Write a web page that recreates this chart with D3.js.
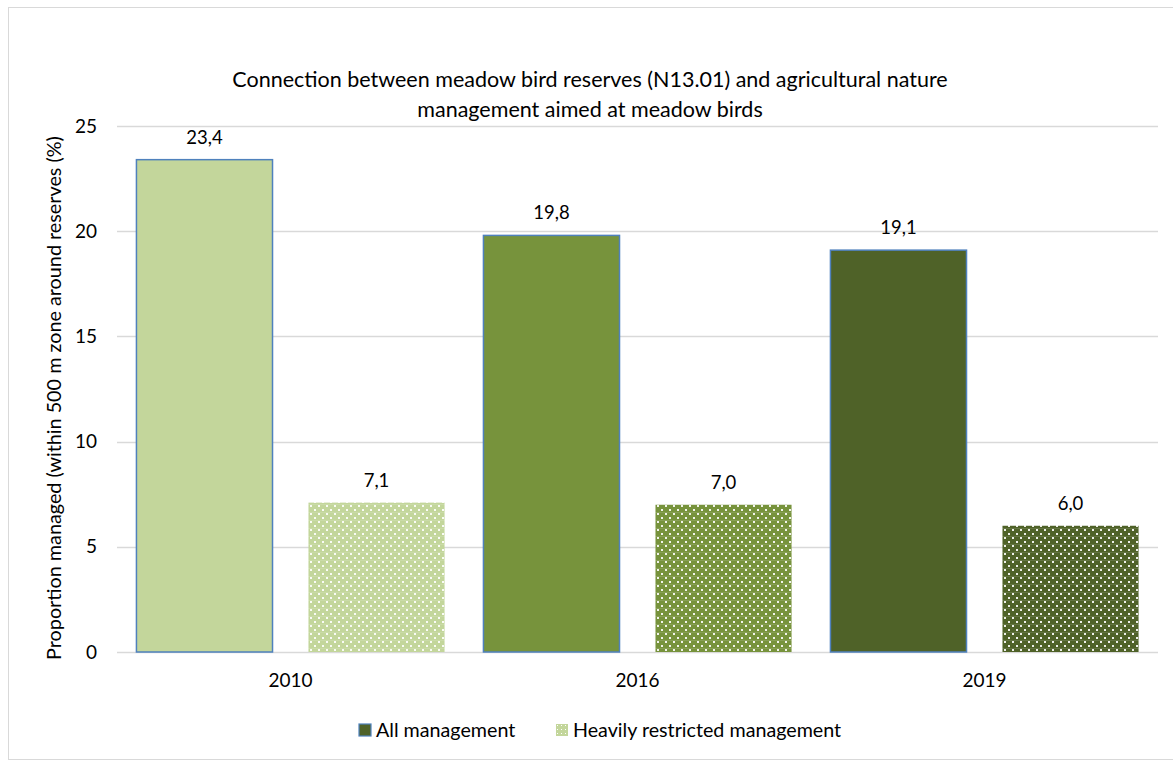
<!DOCTYPE html>
<html>
<head>
<meta charset="utf-8">
<script src="https://cdn.jsdelivr.net/npm/d3@7"></script>
<style>
  body { margin: 0; background: #fff; }
  text { font-family: Lato, "Open Sans", sans-serif; fill: #000; }
</style>
</head>
<body>
<div id="chart"></div>
<script>
// ---------------------------------------------- DATA ---------------------------------------------- //
const years = ["2010", "2016", "2019"];
const seriesNames = ["All management", "Heavily restricted management"];
const allManagement = [23.4, 19.8, 19.1];
const heavilyRestricted = [7.1, 7.0, 6.0];
const yTicks = [0, 5, 10, 15, 20, 25];
const yearColors = ["#C3D69B", "#77933C", "#4F6228"];

const width = 1173, height = 760;
const margin = {top: 126, right: 15, bottom: 108, left: 117};

const svg = d3.select("#chart")
  .append("svg")
  .attr("width", width)
  .attr("height", height);

// patterns for the "heavily restricted" bars
const defs = svg.append("defs");
yearColors.forEach(function (c, i) {
  const p = defs.append("pattern")
    .attr("id", "dots" + i)
    .attr("patternUnits", "userSpaceOnUse")
    .attr("width", 8).attr("height", 8);
  p.append("rect").attr("width", 8).attr("height", 8).attr("fill", c);
  p.append("rect").attr("x", 1).attr("y", 1).attr("width", 2).attr("height", 2).attr("fill", "#fff").attr("opacity", 0.9);
  p.append("rect").attr("x", 5).attr("y", 5).attr("width", 2).attr("height", 2).attr("fill", "#fff").attr("opacity", 0.9);
  p.append("rect").attr("x", 0).attr("y", 0).attr("width", 8).attr("height", 0.6).attr("fill", "#fff").attr("opacity", 0.2);
});
const legendPat = defs.append("pattern")
  .attr("id", "legendDots")
  .attr("patternUnits", "userSpaceOnUse")
  .attr("width", 4).attr("height", 4);
legendPat.append("rect").attr("width", 4).attr("height", 4).attr("fill", "#C3D69B");
legendPat.append("rect").attr("x", 1).attr("y", 1).attr("width", 1).attr("height", 1).attr("fill", "#fff");

// outer frame
svg.append("rect")
  .attr("x", 8.5).attr("y", 7.5)
  .attr("width", width - 8).attr("height", height - 8)
  .attr("fill", "none")
  .attr("stroke", "#d9d9d9");

// ---------------------------------------------- SCALES ---------------------------------------------- //
const x0 = d3.scaleBand()
  .domain(years)
  .range([margin.left, width - margin.right])
  .padding(0);

const x1 = d3.scaleBand()
  .domain(seriesNames)
  .range([0, x0.bandwidth()])
  .paddingInner(0.209)
  .paddingOuter(0.113);

const y = d3.scaleLinear()
  .domain([0, 25])
  .range([height - margin.bottom, margin.top]);

// gridlines
svg.append("g")
  .selectAll("line")
  .data(yTicks)
  .enter()
  .append("line")
  .attr("x1", margin.left)
  .attr("x2", width - margin.right)
  .attr("y1", d => Math.round(y(d)) + 0.5)
  .attr("y2", d => Math.round(y(d)) + 0.5)
  .attr("stroke", "#d9d9d9")
  .attr("stroke-width", 1.3);

// y tick labels
svg.append("g")
  .selectAll("text")
  .data(yTicks)
  .enter()
  .append("text")
  .attr("x", 97)
  .attr("y", d => y(d))
  .attr("dy", "0.35em")
  .attr("text-anchor", "end")
  .style("font-size", "19px")
  .text(d => d);

// y axis title
svg.append("text")
  .attr("transform", "translate(61,398) rotate(-90)")
  .attr("text-anchor", "middle")
  .style("font-size", "19.8px")
  .text("Proportion managed (within 500 m zone around reserves (%)");

// ---------------------------------------------- BARS ---------------------------------------------- //
const rows = years.map(function (yr, i) {
  return {year: yr, i: i, values: [allManagement[i], heavilyRestricted[i]]};
});

const groups = svg.append("g")
  .selectAll("g")
  .data(rows)
  .enter()
  .append("g")
  .attr("transform", d => "translate(" + x0(d.year) + ",0)");

groups.selectAll("rect")
  .data(d => d.values.map((v, k) => ({name: seriesNames[k], value: v, i: d.i, k: k})))
  .enter()
  .append("rect")
  .attr("x", d => x1(d.name))
  .attr("y", d => y(d.value))
  .attr("width", x1.bandwidth())
  .attr("height", d => y(0) - y(d.value))
  .attr("fill", d => d.k === 0 ? yearColors[d.i] : "url(#dots" + d.i + ")")
  .attr("stroke", d => d.k === 0 ? "#4F81BD" : "none")
  .attr("stroke-width", 1.5);

const fmt = v => d3.format(".1f")(v).replace(".", ",");

groups.selectAll("text")
  .data(d => d.values.map((v, k) => ({name: seriesNames[k], value: v})))
  .enter()
  .append("text")
  .attr("x", d => x1(d.name) + x1.bandwidth() / 2)
  .attr("y", d => y(d.value) - 16)
  .attr("text-anchor", "middle")
  .style("font-size", "18.5px")
  .text(d => fmt(d.value));

// x labels
svg.append("g")
  .selectAll("text")
  .data(years)
  .enter()
  .append("text")
  .attr("x", d => x0(d) + x0.bandwidth() / 2)
  .attr("y", 680)
  .attr("dy", "0.35em")
  .attr("text-anchor", "middle")
  .style("font-size", "19px")
  .text(d => d);

// ---------------------------------------------- TITLE ---------------------------------------------- //
const title = svg.append("text")
  .attr("x", 590)
  .attr("text-anchor", "middle")
  .style("font-size", "21.5px");
title.append("tspan").attr("x", 590).attr("y", 87).text("Connection between meadow bird reserves (N13.01) and agricultural nature");
title.append("tspan").attr("x", 590).attr("y", 117).text("management aimed at meadow birds");

// ---------------------------------------------- LEGEND ---------------------------------------------- //
const legendItems = [
  {name: seriesNames[0], x: 359, fill: "#4F6228", stroke: "#4F81BD"},
  {name: seriesNames[1], x: 556, fill: "url(#legendDots)", stroke: "none"}
];
const legend = svg.append("g")
  .selectAll("g")
  .data(legendItems)
  .enter()
  .append("g")
  .attr("transform", d => "translate(" + d.x + ",724)");
legend.append("rect")
  .attr("width", 12).attr("height", 12)
  .attr("fill", d => d.fill)
  .attr("stroke", d => d.stroke)
  .attr("stroke-width", 1.2);
legend.append("text")
  .attr("x", 17)
  .attr("y", 6)
  .attr("dy", "0.35em")
  .style("font-size", "19.7px")
  .text(d => d.name);
</script>
</body>
</html>
